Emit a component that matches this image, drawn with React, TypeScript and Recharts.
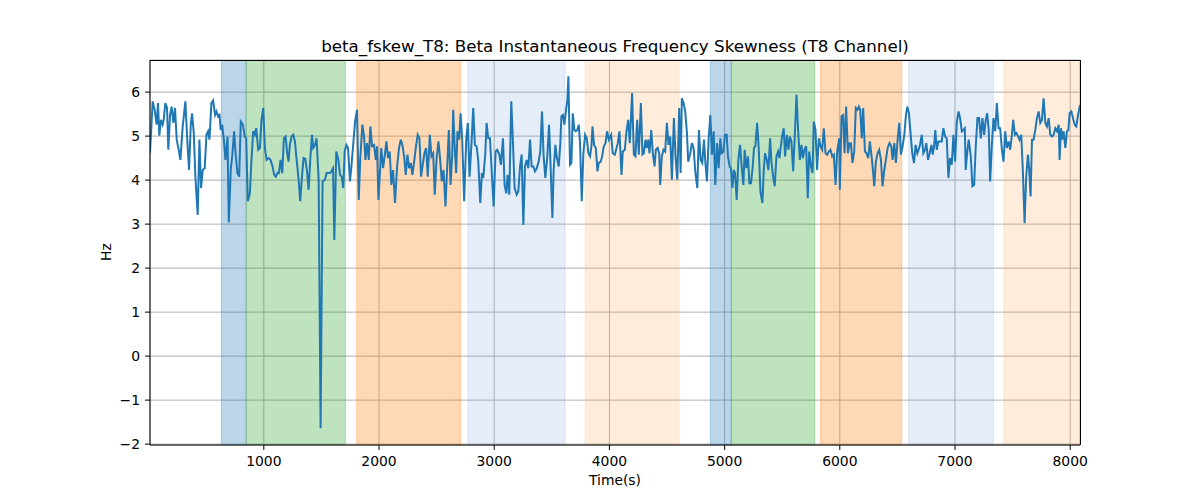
import React from "react";
import {
  LineChart,
  Line,
  XAxis,
  YAxis,
  CartesianGrid,
  ReferenceArea,
} from "recharts";

const FONT = "'DejaVu Sans', 'Liberation Sans', sans-serif";
const TITLE = "beta_fskew_T8: Beta Instantaneous Frequency Skewness (T8 Channel)";
const X_LABEL = "Time(s)";
const Y_LABEL = "Hz";

const X_TICKS = [1000, 2000, 3000, 4000, 5000, 6000, 7000, 8000];
const Y_TICKS = [-2, -1, 0, 1, 2, 3, 4, 5, 6];
const X_DOMAIN = [12, 8085];
const Y_DOMAIN = [-2.02, 6.73];

// [start, end, kind]
const bands: [number, number, string][] = [
  [632, 847, "blue"],
  [847, 1708, "green"],
  [1806, 2708, "orange"],
  [2771, 3615, "paleBlue"],
  [3789, 4603, "paleOrange"],
  [4876, 5058, "blue"],
  [5058, 5783, "green"],
  [5832, 6537, "orange"],
  [6598, 7334, "paleBlue"],
  [7424, 8085, "paleOrange"],
];

const BAND_STYLE: Record<string, { color: string; opacity: number }> = {
  blue: { color: "#1f77b4", opacity: 0.3 },
  green: { color: "#2ca02c", opacity: 0.3 },
  orange: { color: "#ff7f0e", opacity: 0.3 },
  paleBlue: { color: "#7aa6dc", opacity: 0.2 },
  paleOrange: { color: "#ff9f4a", opacity: 0.2 },
};

// [time (s), skewness (Hz)]
const skew: [number, number][] = [
  [12, 4.61], [35, 5.79], [52, 5.6], [70, 5.26], [81, 5.75], [93, 5.01], [107, 5.37], [122, 5.26],
  [131, 5.37], [145, 5.75], [160, 5.64], [171, 4.69], [186, 5.48], [200, 5.67], [215, 5.3], [229, 5.64],
  [244, 4.92], [261, 4.69], [276, 4.46], [296, 5.22], [319, 5.79], [337, 4.84], [351, 4.23], [366, 5.26],
  [377, 5.52], [392, 5.07], [406, 4.08], [426, 3.21], [441, 4.92], [455, 3.82], [470, 4.23], [487, 4.27],
  [502, 5.03], [516, 5.11], [528, 4.92], [545, 5.75], [560, 5.81], [577, 5.48], [589, 5.56], [603, 5.45],
  [615, 5.48], [626, 5.14], [638, 5.26], [653, 4.92], [667, 4.46], [685, 4.99], [696, 3.04], [713, 4.23],
  [728, 4.61], [742, 5.11], [757, 4.54], [771, 4.16], [786, 4.08], [800, 5.33], [818, 5.26], [835, 4.99],
  [847, 4.95], [861, 3.52], [879, 3.7], [893, 4.46], [908, 5.11], [922, 5.03], [934, 5.18], [951, 4.69],
  [966, 4.73], [980, 5.37], [995, 5.64], [1009, 4.73], [1024, 4.46], [1041, 4.5], [1058, 4.46], [1076, 4.31],
  [1090, 4.12], [1105, 4.08], [1119, 4.17], [1131, 4.16], [1145, 4.46], [1160, 4.16], [1174, 4.95], [1189, 4.99],
  [1203, 4.61], [1215, 4.42], [1226, 4.8], [1241, 4.99], [1256, 5.03], [1270, 4.88], [1285, 4.46], [1302, 4.01],
  [1316, 3.52], [1331, 4.08], [1345, 4.5], [1360, 4.48], [1374, 4.23], [1389, 3.78], [1403, 4.46], [1418, 5.03],
  [1429, 4.73], [1444, 4.8], [1458, 4.95], [1476, 4.01], [1493, -1.64], [1510, 3.97], [1531, 4.01], [1545, 4.16],
  [1560, 4.16], [1574, 4.16], [1586, 4.2], [1601, 4.27], [1612, 2.64], [1629, 4.65], [1647, 4.46], [1662, 4.12],
  [1676, 4.08], [1690, 3.82], [1702, 4.65], [1717, 4.8], [1731, 4.73], [1748, 3.97], [1763, 4.39], [1777, 4.84],
  [1792, 5.33], [1809, 5.6], [1824, 3.55], [1838, 4.54], [1856, 5.26], [1870, 4.99], [1882, 4.46], [1896, 4.84],
  [1911, 4.46], [1925, 5.22], [1940, 4.77], [1957, 4.8], [1972, 4.46], [1983, 4.77], [1995, 3.55],
  [2020, 4.73], [2035, 4.27], [2049, 4.54], [2064, 4.88], [2078, 4.5], [2093, 4.65], [2107, 3.89], [2122, 4.23],
  [2139, 3.48], [2157, 4.31], [2174, 4.73], [2189, 4.92], [2203, 4.8], [2218, 4.54], [2232, 4.12], [2247, 4.58],
  [2261, 4.27], [2276, 4.39], [2290, 4.12], [2305, 4.42], [2319, 4.73], [2336, 5.03], [2351, 4.95], [2365, 4.08],
  [2380, 4.35], [2394, 4.61], [2409, 4.73], [2423, 4.08], [2441, 5.03], [2455, 4.54], [2470, 4.61], [2484, 3.67],
  [2499, 4.46], [2516, 4.88], [2531, 4.46], [2545, 3.97], [2560, 4.23], [2577, 3.4], [2592, 4.31], [2606, 5.14],
  [2621, 3.89], [2635, 4.54], [2644, 5.6], [2658, 4.69], [2670, 4.16], [2681, 5.11], [2696, 4.92], [2708, 5.52],
  [2722, 4.92], [2739, 3.52], [2757, 4.92], [2771, 5.3], [2786, 4.08], [2803, 4.84], [2818, 5.64], [2832, 4.8],
  [2847, 4.77], [2861, 4.46], [2879, 3.48], [2893, 4.16], [2905, 4.05], [2922, 4.58], [2934, 5.3], [2948, 4.95],
  [2963, 4.95], [2980, 4.12], [2995, 3.4], [3012, 4.65], [3026, 4.69], [3044, 4.58], [3058, 4.35], [3076, 4.95],
  [3090, 3.89], [3105, 3.7], [3116, 4.12], [3131, 3.67], [3148, 5.79], [3163, 4.84], [3177, 3.82], [3195, 3.67],
  [3209, 3.74], [3224, 4.31], [3238, 4.58], [3253, 2.98], [3267, 4.31], [3282, 4.46], [3296, 4.27], [3311, 4.92],
  [3325, 4.31], [3340, 4.31], [3354, 4.2], [3369, 4.27], [3386, 4.42], [3400, 4.65], [3415, 5.56], [3429, 4.54],
  [3444, 4.05], [3461, 4.54], [3476, 5.26], [3490, 4.27], [3505, 3.14], [3516, 4.23], [3531, 4.8], [3542, 4.54],
  [3560, 4.31], [3574, 4.84], [3583, 5.45], [3597, 5.48], [3609, 5.26], [3624, 5.6], [3635, 5.83], [3644, 6.36],
  [3658, 4.35], [3670, 4.39], [3682, 5.52], [3696, 5.14], [3708, 5.11], [3722, 5.14], [3734, 5.26], [3745, 4.84],
  [3760, 3.52], [3774, 4.61], [3789, 5.03], [3803, 4.95], [3818, 4.61], [3832, 4.54], [3844, 4.77], [3853, 5.22],
  [3867, 4.8], [3882, 4.73], [3896, 4.2], [3908, 4.39], [3925, 4.42], [3937, 4.54], [3951, 4.77], [3966, 4.84],
  [3980, 5.11], [3995, 4.92],
  [4015, 5.03], [4029, 4.61], [4047, 4.58], [4058, 4.69], [4073, 4.84], [4087, 5.11], [4105, 4.12], [4116, 4.65],
  [4134, 4.69], [4148, 5.11], [4163, 5.37], [4177, 4.84], [4197, 5.98], [4212, 4.58], [4226, 4.54], [4241, 5.37],
  [4255, 4.58], [4273, 5.75], [4287, 4.58], [4299, 4.61], [4313, 4.92], [4325, 4.73], [4336, 4.92], [4348, 4.61],
  [4363, 5.14], [4377, 4.61], [4392, 4.31], [4403, 4.69], [4418, 4.73], [4432, 4.61], [4441, 3.89], [4455, 4.54],
  [4470, 4.69], [4484, 4.65], [4499, 5.3], [4513, 4.8], [4528, 4.99], [4542, 4.01], [4560, 5.41], [4574, 4.54],
  [4589, 4.01], [4606, 5.64], [4618, 4.16], [4629, 5.86], [4644, 5.75], [4658, 5.56], [4673, 5.07], [4684, 4.42],
  [4702, 4.61], [4716, 4.84], [4731, 4.73], [4745, 4.2], [4763, 3.82], [4777, 5.14], [4792, 4.46], [4806, 4.39],
  [4821, 4.92], [4832, 4.42], [4847, 3.97], [4861, 4.92], [4876, 5.48], [4890, 4.58], [4905, 5.11], [4919, 3.89],
  [4934, 4.84], [4948, 4.27], [4963, 4.95], [4974, 4.61], [4989, 4.65], [5003, 5.03], [5018, 5.03], [5029, 4.54],
  [5044, 4.31], [5055, 4.27], [5067, 3.82], [5079, 4.23], [5090, 4.16], [5105, 3.55], [5119, 4.46], [5134, 4.8],
  [5148, 4.31], [5163, 3.89], [5174, 4.69], [5189, 4.27], [5203, 4.54], [5215, 3.93], [5229, 3.93], [5244, 4.31],
  [5255, 4.73], [5267, 4.77], [5282, 5.3], [5296, 4.73], [5311, 3.74], [5328, 3.48], [5340, 4.23], [5351, 4.61],
  [5366, 4.46], [5380, 4.23], [5395, 4.95], [5406, 4.42], [5421, 4.08], [5435, 3.86], [5450, 4.54], [5464, 4.65],
  [5476, 4.5], [5484, 4.69], [5499, 4.99], [5513, 5.18], [5525, 4.54], [5540, 5.03], [5554, 4.69], [5566, 4.99],
  [5580, 4.88], [5595, 4.2], [5609, 4.99], [5624, 5.94], [5638, 5.14], [5653, 4.46], [5667, 4.8], [5679, 4.5],
  [5693, 4.69], [5708, 4.77], [5722, 3.59], [5734, 4.65], [5748, 4.35], [5763, 4.16], [5774, 5.33], [5789, 5.14],
  [5803, 4.23], [5818, 4.95], [5832, 4.77], [5847, 4.69], [5861, 5.18], [5876, 4.61], [5890, 4.58], [5905, 4.65],
  [5919, 4.69], [5934, 4.54], [5948, 4.58], [5963, 3.89], [5977, 4.65], [5995, 4.95],
  [6000, 3.78], [6015, 5.45], [6029, 5.48], [6041, 4.61], [6055, 5.67], [6070, 4.61], [6084, 4.84], [6096, 4.84],
  [6110, 4.39], [6125, 4.65], [6139, 5.64], [6154, 5.6], [6165, 5.67], [6177, 5.6], [6191, 4.95], [6203, 5.64],
  [6218, 4.65], [6232, 4.61], [6247, 4.5], [6261, 4.88], [6276, 4.54], [6290, 4.16], [6299, 3.86], [6313, 4.42],
  [6328, 4.61], [6342, 4.69], [6357, 4.46], [6371, 3.86], [6386, 4.23], [6400, 4.46], [6415, 4.73], [6432, 4.84],
  [6447, 4.77], [6458, 4.46], [6473, 4.84], [6487, 4.39], [6502, 4.92], [6516, 5.3], [6531, 4.58], [6545, 4.77],
  [6560, 5.03], [6574, 5.48], [6586, 5.67], [6600, 5.52], [6615, 5.03], [6629, 4.61], [6644, 4.39], [6658, 4.8],
  [6673, 4.61], [6684, 4.69], [6696, 4.8], [6711, 5.03], [6725, 4.61], [6740, 4.69], [6751, 4.84], [6766, 4.46],
  [6780, 4.61], [6795, 4.8], [6806, 4.58], [6818, 4.77], [6829, 5.14], [6841, 4.69], [6856, 4.88], [6870, 4.88],
  [6885, 4.88], [6899, 5.18], [6914, 4.99], [6928, 4.95], [6943, 4.05], [6957, 4.5], [6972, 4.35], [6986, 5.03],
  [7001, 4.42], [7015, 5.3], [7030, 5.56], [7044, 5.41], [7059, 5.11], [7073, 5.14], [7085, 5.18], [7093, 4.23],
  [7108, 4.69], [7119, 4.92], [7137, 4.54], [7151, 3.86], [7166, 3.89], [7180, 4.77], [7195, 5.41], [7209, 5.41],
  [7224, 4.95], [7238, 5.41], [7253, 5.03], [7267, 5.37], [7279, 5.52], [7293, 5.14], [7305, 3.97], [7320, 4.8],
  [7334, 5.41], [7349, 5.11], [7363, 5.75], [7378, 5.18], [7392, 5.18], [7407, 4.69], [7421, 4.42], [7436, 5.11],
  [7450, 4.73], [7465, 4.88], [7479, 4.69], [7494, 5.03], [7505, 5.37], [7520, 5.03], [7534, 5.07], [7549, 4.99],
  [7560, 4.92], [7575, 5.03], [7589, 4.2], [7604, 3.02], [7618, 4.08], [7633, 4.58], [7644, 4.23], [7656, 3.63],
  [7668, 4.92], [7682, 4.92], [7697, 5.14], [7711, 5.41], [7726, 5.56], [7740, 5.3], [7755, 5.37], [7769, 5.86],
  [7784, 5.3], [7798, 5.22], [7813, 5.41], [7827, 5.03], [7842, 4.99], [7856, 5.03], [7871, 5.18], [7885, 5.11],
  [7900, 5.26], [7908, 4.46], [7920, 5.18], [7931, 4.92], [7943, 5.11], [7958, 4.73], [7972, 5.11], [7984, 5.14],
  [7995, 5.52], [8010, 5.56], [8024, 5.41], [8039, 5.26], [8053, 5.22], [8068, 5.48], [8085, 5.71],
];

const data = skew.map(([t, v]) => ({ t, v }));

const TICK = { fill: "#000", fontSize: 13.9, fontFamily: FONT };
const minus = (v: number) => (v < 0 ? `\u2212${Math.abs(v)}` : `${v}`);

const textBase: React.CSSProperties = {
  position: "absolute",
  lineHeight: 1,
  whiteSpace: "nowrap",
  color: "#000",
};

export default function App() {
  return (
    <div
      style={{
        position: "absolute",
        left: 0,
        top: 0,
        width: 1200,
        height: 500,
        background: "#fff",
        fontFamily: FONT,
      }}
    >
      <LineChart
        width={1200}
        height={500}
        data={data}
        margin={{ top: 60, right: 120, bottom: 25, left: 90 }}
      >
        <CartesianGrid stroke="#b0b0b0" strokeWidth={1} />
        {bands.map(([x1, x2, kind], i) => (
          <ReferenceArea
            key={i}
            x1={x1}
            x2={x2}
            fill={BAND_STYLE[kind].color}
            fillOpacity={BAND_STYLE[kind].opacity}
            stroke={BAND_STYLE[kind].color}
            strokeOpacity={BAND_STYLE[kind].opacity}
            ifOverflow="hidden"
          />
        ))}
        <XAxis
          dataKey="t"
          type="number"
          domain={X_DOMAIN}
          allowDataOverflow
          ticks={X_TICKS}
          tick={TICK}
          tickSize={5}
          tickMargin={6}
          height={30}
          axisLine={{ stroke: "#000" }}
          tickLine={{ stroke: "#000" }}
        />
        <YAxis
          type="number"
          domain={Y_DOMAIN}
          allowDataOverflow
          ticks={Y_TICKS}
          tickFormatter={minus}
          tick={TICK}
          tickSize={5}
          tickMargin={5}
          width={60}
          axisLine={{ stroke: "#000" }}
          tickLine={{ stroke: "#000" }}
        />
        <Line
          type="linear"
          dataKey="v"
          stroke="#1f77b4"
          strokeWidth={2}
          dot={false}
          isAnimationActive={false}
        />
      </LineChart>
      {/* top and right spines */}
      <div
        style={{
          position: "absolute",
          left: 150,
          top: 59.5,
          width: 930.5,
          height: 385.5,
          boxSizing: "border-box",
          borderTop: "1px solid #000",
          borderRight: "1px solid #000",
          pointerEvents: "none",
        }}
      />
      <div style={{ ...textBase, left: 615, top: 38, transform: "translateX(-50%)", fontSize: 16.7 }}>
        {TITLE}
      </div>
      <div style={{ ...textBase, left: 615, top: 474, transform: "translateX(-50%)", fontSize: 13.9 }}>
        {X_LABEL}
      </div>
      <div
        style={{
          ...textBase,
          left: 107,
          top: 252,
          transform: "translate(-50%, -50%) rotate(-90deg)",
          fontSize: 13.9,
        }}
      >
        {Y_LABEL}
      </div>
    </div>
  );
}
